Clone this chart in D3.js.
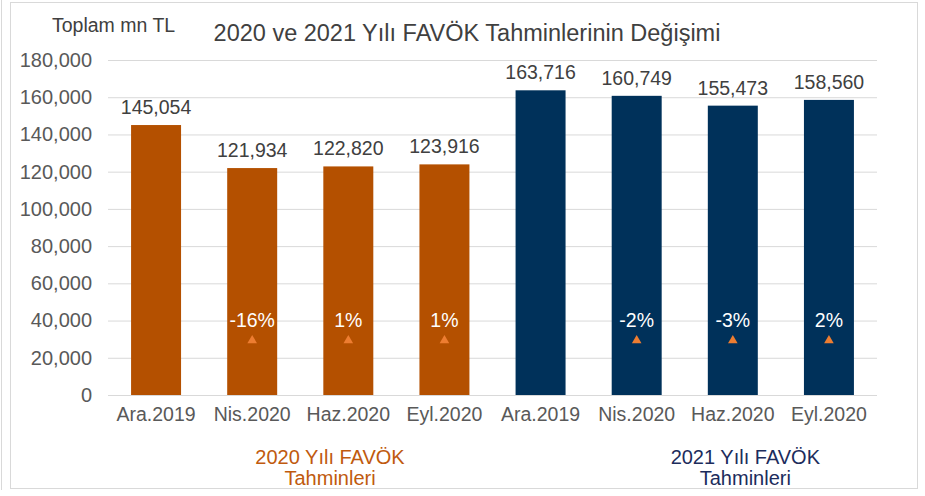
<!DOCTYPE html>
<html>
<head>
<meta charset="utf-8">
<script src="https://cdn.jsdelivr.net/npm/d3@7"></script>
<style>
  body { margin: 0; background: #fff; }
  svg { display: block; font-family: "Liberation Sans", Arial, sans-serif; }
</style>
</head>
<body>
<div id="chart"></div>
<script>
// categories and values
const categories = ["Ara.2019", "Nis.2020", "Haz.2020", "Eyl.2020", "Ara.2019", "Nis.2020", "Haz.2020", "Eyl.2020"];
const values = [145054, 121934, 122820, 123916, 163716, 160749, 155473, 158560];
const groups = [0, 0, 0, 0, 1, 1, 1, 1];
const changes = [null, "-16%", "1%", "1%", null, "-2%", "-3%", "2%"];
const groupLabels = [["2020 Yılı FAVÖK", "Tahminleri"], ["2021 Yılı FAVÖK", "Tahminleri"]];
// where each group caption sits, in category-index units
const groupLabelPos = [1.81, 6.13];
const yTicks = [0, 20000, 40000, 60000, 80000, 100000, 120000, 140000, 160000, 180000];

const colors = ["#b45000", "#00315a"];
const groupTextColors = ["#c05a0e", "#1c2c5c"];

function createChart() {
    const width = 925;
    const height = 496;
    const margin = { top: 60, right: 48, bottom: 101, left: 108 };

    const svg = d3.select("#chart")
        .append("svg")
        .attr("width", width)
        .attr("height", height);

    // outer frame
    svg.append("line")
        .attr("x1", 1.5).attr("x2", 1.5)
        .attr("y1", 0).attr("y2", 490)
        .attr("stroke", "#d9d9d9");
    svg.append("rect")
        .attr("x", 10.5).attr("y", 2.5)
        .attr("width", 907).attr("height", 486)
        .attr("fill", "none")
        .attr("stroke", "#d9d9d9");

    const x = d3.scaleBand()
        .domain(d3.range(categories.length))
        .range([margin.left, width - margin.right])
        .paddingInner(0.48)
        .paddingOuter(0.24);

    const y = d3.scaleLinear()
        .domain([0, 180000])
        .range([height - margin.bottom, margin.top]);

    const idxToX = d3.scaleLinear()
        .domain([0, 1])
        .range([x(0) + x.bandwidth() / 2, x(1) + x.bandwidth() / 2]);

    // gridlines + y labels
    const yAxis = d3.axisLeft(y)
        .tickValues(yTicks)
        .tickSize(-(width - margin.left - margin.right))
        .tickPadding(16)
        .tickFormat(d3.format(","));

    const gy = svg.append("g")
        .attr("transform", `translate(${margin.left},0)`)
        .call(yAxis);
    gy.select(".domain").remove();
    gy.selectAll(".tick line").attr("stroke", "#d9d9d9");
    gy.selectAll(".tick text")
        .attr("fill", "#595959")
        .style("font-size", "20px");

    // bars
    svg.selectAll(".bar")
        .data(values)
        .enter()
        .append("rect")
        .attr("class", "bar")
        .attr("x", (d, i) => x(i))
        .attr("y", d => y(d))
        .attr("width", x.bandwidth())
        .attr("height", d => y(0) - y(d))
        .attr("fill", (d, i) => colors[groups[i]]);

    // value labels
    svg.selectAll(".val")
        .data(values)
        .enter()
        .append("text")
        .attr("class", "val")
        .attr("x", (d, i) => x(i) + x.bandwidth() / 2)
        .attr("y", d => y(d) - 11)
        .attr("text-anchor", "middle")
        .attr("fill", "#404040")
        .style("font-size", "19.5px")
        .text(d => d3.format(",")(d));

    // percent change labels + triangles
    const chg = svg.selectAll(".chg")
        .data(changes.map((c, i) => ({ c, i })).filter(d => d.c))
        .enter()
        .append("g")
        .attr("class", "chg")
        .attr("transform", d => `translate(${x(d.i) + x.bandwidth() / 2},0)`);

    chg.append("text")
        .attr("y", y(40000) + 6)
        .attr("text-anchor", "middle")
        .attr("fill", "#ffffff")
        .style("font-size", "19.5px")
        .text(d => d.c);

    chg.append("path")
        .attr("d", d3.symbol(d3.symbolTriangle, 40))
        .attr("transform", `translate(0,${y(40000) + 20})`)
        .attr("fill", "#ed7d31");

    // x labels
    const xAxis = d3.axisBottom(x)
        .tickSize(0)
        .tickPadding(12)
        .tickFormat(i => categories[i]);

    const gx = svg.append("g")
        .attr("transform", `translate(0,${height - margin.bottom})`)
        .call(xAxis);
    gx.select(".domain")
        .attr("d", `M${margin.left},0.5H${width - margin.right}`)
        .attr("stroke", "#d9d9d9");
    gx.selectAll(".tick text")
        .attr("fill", "#595959")
        .style("font-size", "19.5px");

    // group captions under the axis
    groupLabels.forEach((lines, g) => {
        const t = svg.append("text")
            .attr("text-anchor", "middle")
            .attr("fill", groupTextColors[g])
            .style("font-size", "20px");
        lines.forEach((line, k) => {
            t.append("tspan")
                .attr("x", idxToX(groupLabelPos[g]))
                .attr("y", 464 + k * 21)
                .text(line);
        });
    });

    // titles
    svg.append("text")
        .attr("x", 52)
        .attr("y", 32)
        .attr("fill", "#404040")
        .style("font-size", "19.5px")
        .text("Toplam mn TL");

    svg.append("text")
        .attr("x", 467)
        .attr("y", 41)
        .attr("text-anchor", "middle")
        .attr("fill", "#404040")
        .style("font-size", "23.5px")
        .text("2020 ve 2021 Yılı FAVÖK Tahminlerinin Değişimi");
}

document.addEventListener("DOMContentLoaded", createChart);
</script>
</body>
</html>
